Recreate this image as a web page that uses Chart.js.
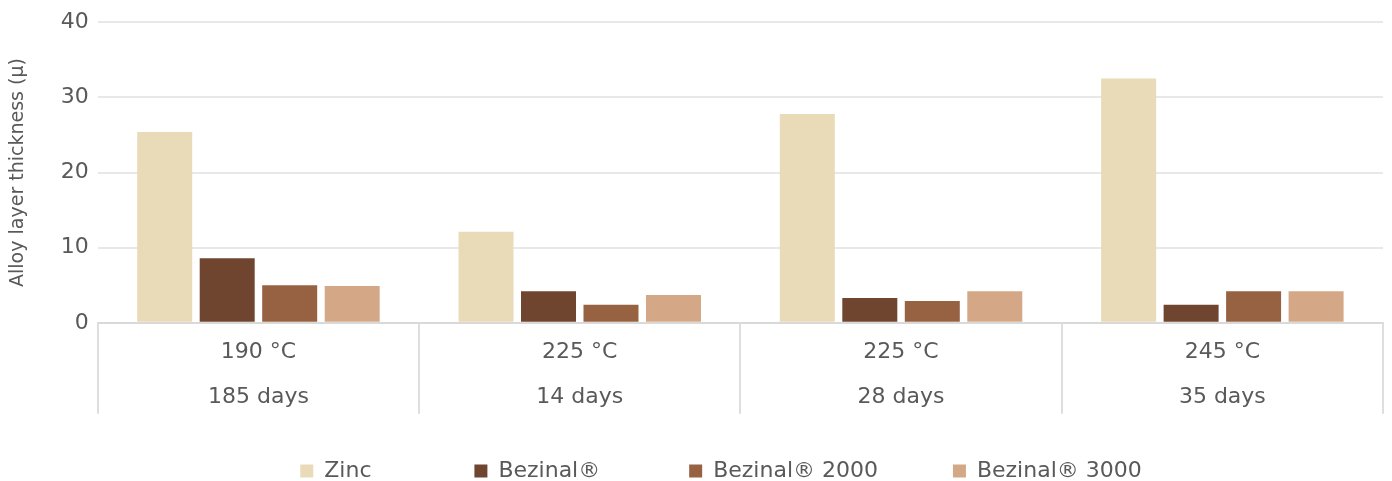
<!DOCTYPE html>
<html>
<head>
<meta charset="utf-8">
<title>Alloy layer thickness</title>
<script src="https://cdn.jsdelivr.net/npm/chart.js@4/dist/chart.umd.min.js"></script>
<style>
  html, body { margin: 0; padding: 0; background: #fff; }
  canvas { display: block; }
</style>
</head>
<body>
<canvas id="alloyChart" width="1392" height="481"></canvas>
<script>
// Datos
const categories = [
  ["190 °C", "185 days"],
  ["225 °C", "14 days"],
  ["225 °C", "28 days"],
  ["245 °C", "35 days"],
];
const seriesNames = ["Zinc", "Bezinal®", "Bezinal® 2000", "Bezinal® 3000"];
const zincValues = [25.4, 12.1, 27.8, 32.5];
const bezinalValues = [8.6, 4.2, 3.3, 2.4];
const bezinal2000Values = [5.0, 2.4, 2.9, 4.2];
const bezinal3000Values = [4.9, 3.7, 4.2, 4.2];
const yTicks = [0, 10, 20, 30, 40];

const colors = ["#EADBB8", "#6F4530", "#976242", "#D4A886"];
const textColor = "#595959";
const fontFamily = "'DejaVu Sans', sans-serif";

// Líneas verticales que separan las categorías bajo el eje X
const dividerPlugin = {
  id: "dividers",
  afterLayout(chart) {
    // la leyenda está algo desplazada a la derecha en el original
    chart.legend.left += 28;
    chart.legend.right += 28;
  },
  afterDraw(chart) {
    const x = chart.scales.x;
    const c = chart.ctx;
    c.save();
    c.strokeStyle = "#dedede";
    c.lineWidth = 2;
    for (let i = 0; i <= categories.length; i++) {
      const px = Math.round(x.getPixelForValue(i - 0.5));
      c.beginPath();
      c.moveTo(px, chart.chartArea.bottom);
      c.lineTo(px, chart.chartArea.bottom + 91);
      c.stroke();
    }
    c.restore();
  },
};

const ctx = document.getElementById("alloyChart").getContext("2d");

const chart = new Chart(ctx, {
  type: "bar",
  data: {
    labels: categories,
    datasets: [zincValues, bezinalValues, bezinal2000Values, bezinal3000Values].map((values, i) => ({
      label: seriesNames[i],
      data: values,
      backgroundColor: colors[i],
      borderWidth: 0,
      barPercentage: 0.88,
      categoryPercentage: 0.778,
    })),
  },
  plugins: [dividerPlugin],
  options: {
    responsive: false,
    animation: false,
    devicePixelRatio: 1,
    layout: {
      padding: { top: 20, left: 3, right: 9, bottom: -11 },
    },
    plugins: {
      tooltip: { enabled: false },
      legend: {
        position: "bottom",
        labels: {
          color: textColor,
          font: { family: fontFamily, size: 22 },
          boxWidth: 13,
          boxHeight: 13,
          padding: 33,
          // espacios extra para separar los elementos como en el original
          generateLabels: (chart) => {
            const items = Chart.defaults.plugins.legend.labels.generateLabels(chart);
            const gaps = [10, 8, 6, 0];
            items.forEach((item, i) => {
              item.text = item.text + " ".repeat(gaps[i]);
            });
            return items;
          },
        },
      },
    },
    scales: {
      x: {
        grid: {
          offset: true,
          drawOnChartArea: false,
          drawTicks: false,
        },
        border: { display: true, color: "#d9d9d9", width: 2 },
        ticks: {
          color: textColor,
          font: { family: fontFamily, size: 22, lineHeight: 2.05 },
          padding: 7,
          maxRotation: 0,
          autoSkip: false,
        },
      },
      y: {
        min: 0,
        max: 40,
        afterBuildTicks: (axis) => {
          axis.ticks = yTicks.map((v) => ({ value: v }));
        },
        grid: {
          color: "#e8e8e8",
          lineWidth: 2,
          drawTicks: false,
        },
        border: { display: false },
        ticks: {
          color: textColor,
          font: { family: fontFamily, size: 22 },
          padding: 9,
        },
        title: {
          display: true,
          text: "Alloy layer thickness (μ)",
          color: textColor,
          font: { family: fontFamily, size: 19 },
          padding: { top: 4, bottom: 22 },
        },
      },
    },
  },
});
</script>
</body>
</html>
